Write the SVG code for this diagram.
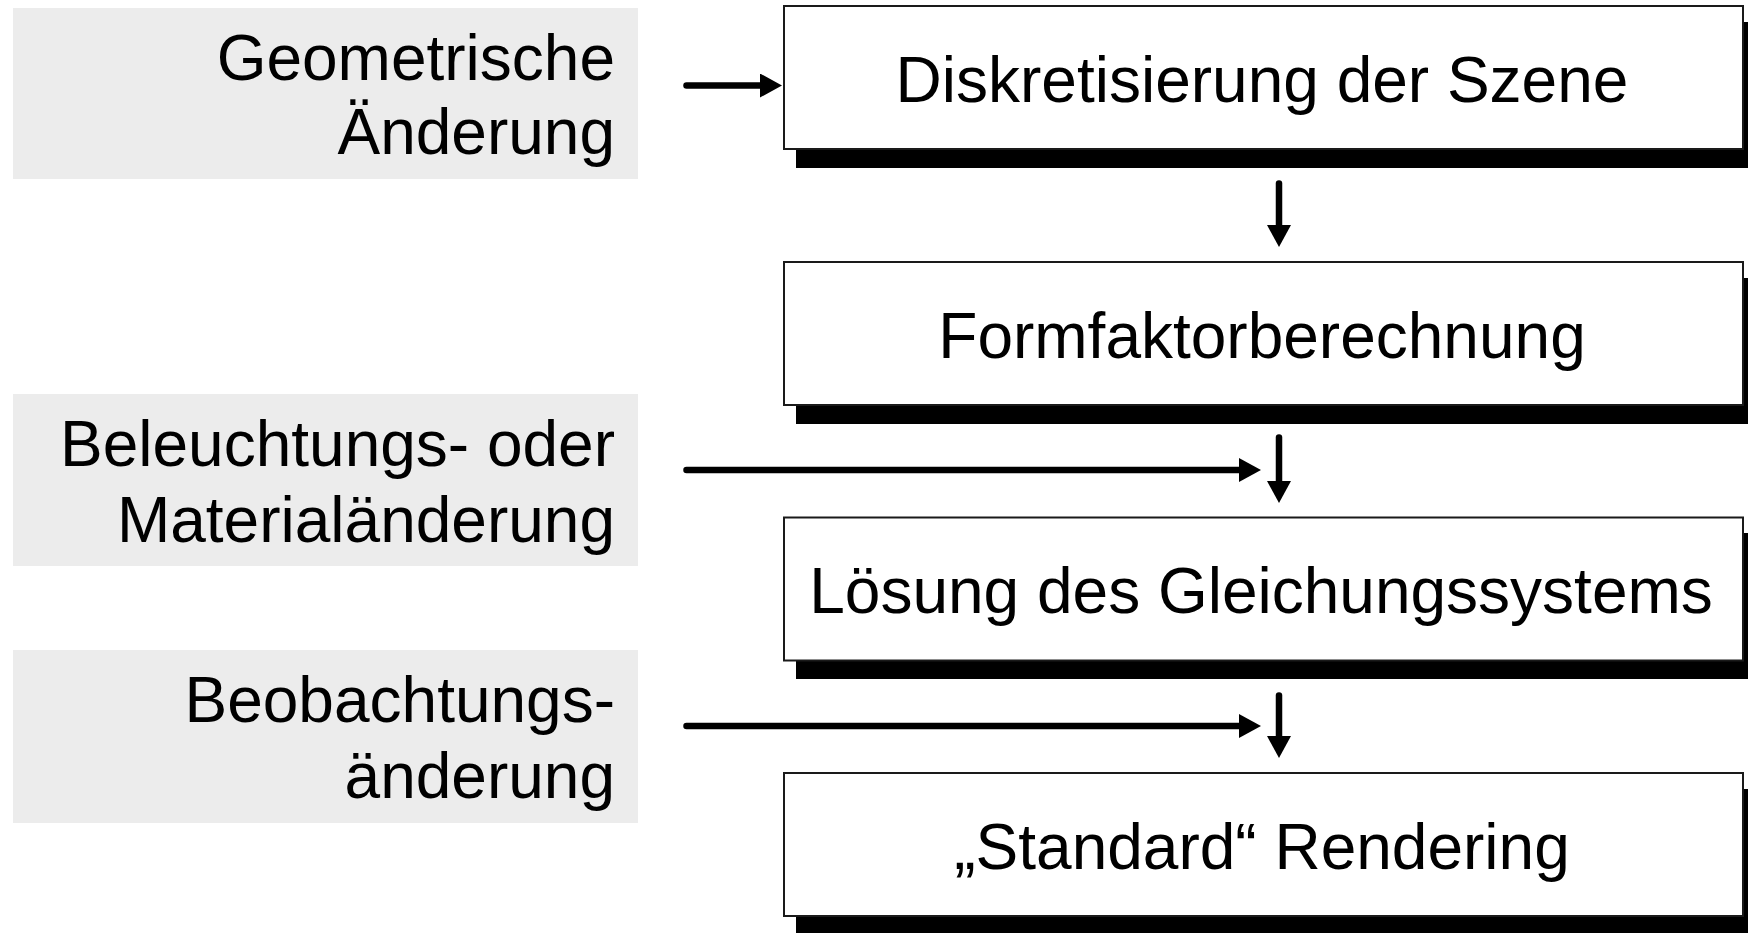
<svg xmlns="http://www.w3.org/2000/svg" width="1748" height="933" viewBox="0 0 1748 933">
  <style>
    .label { fill: #ececec; }
    .box { fill: #ffffff; stroke: #1a1a1a; stroke-width: 2; }
    .shadow { fill: #000000; }
    .t { font-family: "Liberation Sans", Arial, sans-serif; font-size: 64px; fill: #000000; }
    .ltxt { text-anchor: end; }
    .btxt { text-anchor: middle; }
    .conn { stroke: #000000; stroke-width: 6.5; stroke-linecap: round; fill: none; }
  </style>
  <defs>
    <marker id="ah" viewBox="0 0 22 24" refX="0" refY="12" markerWidth="22" markerHeight="24" markerUnits="userSpaceOnUse" orient="auto">
      <polygon points="0,0 22,12 0,24" fill="#000000"/>
    </marker>
  </defs>
  <rect width="1748" height="933" fill="#ffffff"/>

  <g id="label-geometrie">
    <rect class="label" x="13" y="8" width="625" height="171"/>
    <text class="t ltxt" x="615" y="80">Geometrische</text>
    <text class="t ltxt" x="615" y="154">Änderung</text>
  </g>
  <g id="label-beleuchtung">
    <rect class="label" x="13" y="394" width="625" height="172"/>
    <text class="t ltxt" x="615" y="466">Beleuchtungs- oder</text>
    <text class="t ltxt" x="615" y="542">Materialänderung</text>
  </g>
  <g id="label-beobachtung">
    <rect class="label" x="13" y="650" width="625" height="173"/>
    <text class="t ltxt" x="615" y="722">Beobachtungs-</text>
    <text class="t ltxt" x="615" y="798">änderung</text>
  </g>

  <g id="box-diskretisierung">
    <rect class="shadow" x="796" y="22" width="960" height="146"/>
    <rect class="box" x="784" y="6" width="959" height="143"/>
    <text class="t btxt" x="1262" y="102">Diskretisierung der Szene</text>
  </g>
  <g id="box-formfaktor">
    <rect class="shadow" x="796" y="278" width="960" height="146"/>
    <rect class="box" x="784" y="262" width="959" height="143"/>
    <text class="t btxt" x="1262" y="358">Formfaktorberechnung</text>
  </g>
  <g id="box-loesung">
    <rect class="shadow" x="796" y="533" width="960" height="146"/>
    <rect class="box" x="784" y="517.5" width="959" height="143"/>
    <text class="t btxt" x="1261" y="613">Lösung des Gleichungssystems</text>
  </g>
  <g id="box-rendering">
    <rect class="shadow" x="796" y="789" width="960" height="146"/>
    <rect class="box" x="784" y="773" width="959" height="143"/>
    <text class="t btxt" x="1262" y="869">„Standard“ Rendering</text>
  </g>

  <g id="connectors">
    <path class="conn" d="M686.5,85.5 H760" marker-end="url(#ah)"/>
    <path class="conn" d="M686.5,470 H1239" marker-end="url(#ah)"/>
    <path class="conn" d="M686.5,726 H1239" marker-end="url(#ah)"/>
    <path class="conn" d="M1279,183.5 V225" marker-end="url(#ah)"/>
    <path class="conn" d="M1279,437.5 V481" marker-end="url(#ah)"/>
    <path class="conn" d="M1279,695.5 V736" marker-end="url(#ah)"/>
  </g>
</svg>
